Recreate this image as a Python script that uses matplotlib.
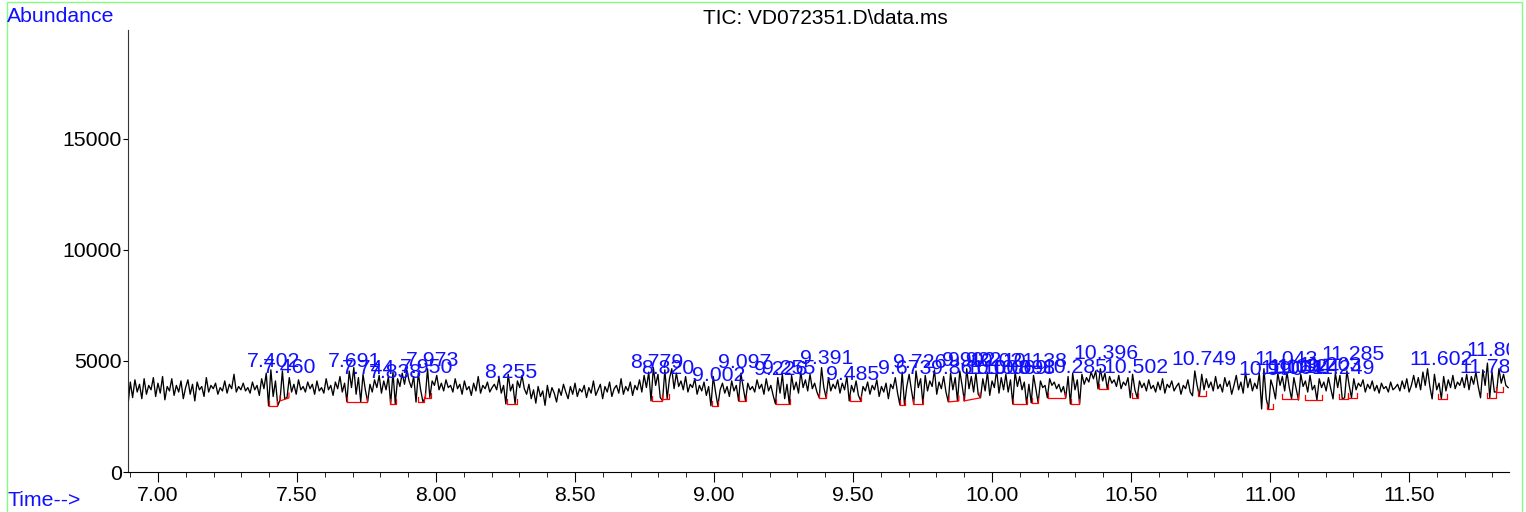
import numpy as np
import matplotlib.pyplot as plt
from matplotlib.patches import Rectangle

plt.rcParams['font.family'] = ['Liberation Sans', 'DejaVu Sans']

# scan window (min) and TIC abundance
t_start = 6.892
t_end = 11.857
tic = [
    3000, 4050, 3350, 4150, 3600, 3950, 3300, 4200, 3500, 3900, 3700, 4250, 3400, 4000, 3550, 4300, 3250, 3850, 3650, 4200,
    3450, 3900, 3600, 4100, 3300, 3800, 4150, 3500, 3950, 3200, 4050, 3700, 3850, 3400, 4250, 3600, 3900, 3750, 4000, 3500,
    3800, 3650, 4100, 3550, 3950, 3750, 4400, 3600, 3850, 3700, 4000, 3650, 3800, 3550, 4050, 3700, 3900, 3450, 4200, 3750,
    4450, 2980, 4600, 3400, 4100, 2990, 3250, 4550, 3300, 3350, 4250, 3600, 3950, 3500, 4150, 3700, 3850, 3600, 4050, 3750,
    3950, 3500, 4100, 3650, 3800, 3550, 4200, 3700, 3900, 3450, 4050, 3750, 4300, 3600, 4000, 3160, 4550, 3800, 4700, 3500,
    4250, 3150, 4400, 3700, 3160, 3950, 3600, 4150, 3800, 4350, 3550, 4100, 3700, 4300, 3060, 4500, 3070, 4200, 3850, 4450,
    3950, 4600, 4100, 3800, 4300, 3150, 4450, 3700, 3160, 3340, 4650, 3350, 4100, 3900, 4350, 3700, 4000, 3650, 4150, 3800,
    3900, 3600, 4200, 3750, 3950, 3500, 4100, 3700, 3850, 3450, 4000, 3650, 4300, 3550, 3900, 3750, 4050, 3600, 3800, 3950,
    3700, 4250, 3550, 3900, 3060, 4400, 3650, 3950, 3070, 4100, 3800, 4350, 3750, 3500, 3950, 3300, 3700, 3100, 3850, 3400,
    3650, 3000, 3900, 3350, 3800, 3550, 3150, 3750, 3450, 3950, 3600, 3300, 3850, 3500, 4000, 3400, 3750, 3600, 3900, 3350,
    3800, 3550, 4100, 3450, 3700, 3950, 3300, 3850, 3600, 4050, 3400, 3750, 3900, 3550, 4200, 3500, 3850, 3650, 4050, 3450,
    3900, 3700, 4150, 3600, 4350, 3800, 4500, 3200, 4700, 3900, 4400, 3350, 3210, 4600, 3300, 4200, 4650, 3750, 4450, 3850,
    4100, 3700, 4300, 3600, 3950, 3800, 4200, 3500, 3900, 3650, 4050, 3450, 3850, 2980, 4300, 3600, 2980, 3700, 4000, 3550,
    3850, 3400, 4100, 3650, 3900, 3200, 4450, 3800, 3200, 4000, 3700, 3850, 3600, 4150, 3750, 3950, 3500, 4200, 3650, 3900,
    3450, 3060, 4250, 3550, 4400, 3300, 3950, 3070, 4350, 3700, 4050, 3550, 4500, 3800, 4150, 3650, 4400, 3750, 4000, 3600,
    3340, 4700, 3800, 3340, 4250, 3650, 3950, 3750, 4150, 3550, 4000, 3700, 4300, 3200, 3900, 3600, 4100, 3450, 3210, 3850,
    3650, 4050, 3500, 3900, 3700, 4150, 3400, 3850, 3600, 4000, 3300, 3950, 3750, 4250, 3550, 3020, 4500, 3020, 3850, 4400,
    3700, 3070, 4550, 3800, 4200, 3060, 4350, 3650, 4100, 3850, 4600, 3500, 4050, 3750, 4300, 3600, 3160, 4450, 3700, 4250,
    3200, 4550, 3900, 3200, 4650, 3750, 4300, 3600, 4450, 3500, 3340, 4200, 3650, 4500, 3450, 4100, 3800, 4600, 3550, 4250,
    3700, 4400, 3600, 4150, 3060, 4500, 3850, 4300, 3700, 4050, 3060, 3950, 3110, 4350, 3750, 3110, 4100, 3800, 3900, 3340,
    4200, 3900, 4050, 3750, 3950, 3600, 3850, 3340, 4300, 3060, 4450, 3700, 4150, 3060, 4400, 3950, 4250, 4050, 4500, 4200,
    4550, 3740, 4650, 4100, 4450, 3740, 4300, 4000, 4150, 3850, 4350, 3750, 4050, 3900, 4250, 3340, 4400, 3700, 3340, 4100,
    3800, 4000, 3650, 4150, 3750, 3900, 3600, 4050, 3700, 4200, 3550, 3950, 3800, 4100, 3650, 3850, 4000, 3500, 3900, 3750,
    4150, 3600, 3430, 4550, 3900, 3430, 4400, 3700, 4200, 3800, 4050, 3650, 4300, 3750, 3950, 3600, 4250, 3850, 4100, 3500,
    3900, 4350, 3700, 4050, 3550, 4500, 3800, 4200, 3650, 4000, 3750, 4450, 2840, 4650, 3300, 2840, 4150, 3800, 3290, 4450,
    3900, 4300, 3650, 4500, 3800, 3290, 4250, 3750, 3240, 4400, 3850, 4100, 3600, 4350, 3700, 3900, 3240, 4200, 3800, 4050,
    3650, 4250, 3750, 3290, 4450, 3800, 4350, 3290, 3340, 4550, 3900, 3340, 4200, 3700, 4000, 3850, 4150, 3600, 3950, 3750,
    4100, 3650, 3900, 3550, 4000, 3750, 3850, 3600, 4050, 3700, 3800, 3950, 3650, 4100, 3750, 4200, 3600, 3900, 4350, 3800,
    4250, 3700, 4500, 3900, 4650, 3850, 3290, 4400, 3700, 4000, 3290, 4300, 3650, 4150, 3800, 4350, 3750, 4050, 3900, 4250,
    3800, 4400, 3700, 4300, 3950, 4500, 3850, 3340, 4600, 3900, 4900, 3340, 4500, 3600, 3610, 4650, 4000, 4400, 3900, 3800,
]

# integrated peaks: retention time and apex abundance
peak_rt = [7.402, 7.460, 7.691, 7.744, 7.838, 7.950, 7.973, 8.255, 8.779, 8.820,
           9.002, 9.097, 9.226, 9.255, 9.391, 9.485, 9.673, 9.726, 9.861, 9.902,
           9.922, 10.008, 10.021, 10.069, 10.098, 10.138, 10.285, 10.396, 10.502, 10.749,
           10.990, 11.043, 11.064, 11.094, 11.124, 11.203, 11.249, 11.285, 11.602, 11.782,
           11.807]
peak_height = [4650, 4375, 4650, 4330, 4150, 4375, 4690, 4150, 4600, 4330,
               4015, 4600, 4285, 4330, 4780, 4060, 4330, 4600, 4330, 4690,
               4690, 4330, 4650, 4330, 4330, 4650, 4375, 5005, 4375, 4735,
               4285, 4735, 4330, 4375, 4375, 4465, 4330, 4960, 4735, 4375,
               5140]

# baselines drawn under the peaks (start, end, level at start, level at end)
base_t0 = [7.399, 7.439, 7.680, 7.835, 7.935, 7.960, 8.255, 8.777, 8.813, 8.993,
           9.090, 9.223, 9.378, 9.489, 9.669, 9.716, 9.845, 9.899, 10.076, 10.144,
           10.201, 10.284, 10.385, 10.504, 10.741, 10.989, 11.043, 11.126, 11.248, 11.281,
           11.604, 11.781, 11.813]
base_t1 = [7.428, 7.471, 7.752, 7.856, 7.957, 7.982, 8.291, 8.813, 8.838, 9.014,
           9.115, 9.273, 9.403, 9.529, 9.687, 9.752, 9.881, 9.957, 10.126, 10.165,
           10.263, 10.313, 10.417, 10.525, 10.770, 11.011, 11.101, 11.187, 11.281, 11.313,
           11.637, 11.813, 11.838]
base_a0 = [2975, 3200, 3155, 3065, 3155, 3335, 3065, 3200, 3290, 2975,
           3200, 3065, 3335, 3200, 3020, 3065, 3155, 3200, 3065, 3110,
           3335, 3065, 3740, 3335, 3425, 2840, 3290, 3245, 3290, 3335,
           3290, 3335, 3605]
base_a1 = [2975, 3335, 3155, 3065, 3155, 3335, 3065, 3200, 3290, 2975,
           3200, 3065, 3335, 3200, 3020, 3065, 3200, 3335, 3065, 3110,
           3335, 3065, 3740, 3335, 3425, 2840, 3290, 3245, 3290, 3335,
           3290, 3335, 3605]

blue = '#1010ff'
fs = 15.3
time = np.linspace(t_start, t_end, len(tic))

fig = plt.figure(figsize=(15.26, 5.12), dpi=100)
ax = fig.add_axes([128 / 1526, 40 / 512, (1509 - 128) / 1526, (472 - 30) / 512])

ax.plot(time, tic, color='black', lw=0.95)

for t0, t1, a0, a1 in zip(base_t0, base_t1, base_a0, base_a1):
    ax.plot([t0, t0, t1, t1], [a0 + 220, a0, a1, a1 + 220], color='red', lw=0.9)

for rt, h in zip(peak_rt, peak_height):
    ax.annotate(f'{rt:.3f}', (rt, h), xytext=(4, 7), textcoords='offset pixels',
                ha='center', va='center', color=blue, fontsize=fs,
                annotation_clip=False, clip_on=True)

ax.set_xlim(6.892, 11.860)
ax.set_ylim(0, 19900)
ax.set_xticks(np.arange(7.0, 11.51, 0.5))
ax.set_xticklabels([f'{v:.2f}' for v in np.arange(7.0, 11.51, 0.5)])
ax.set_xticks(np.arange(6.9, 11.86, 0.1), minor=True)
ax.set_yticks([0, 5000, 10000, 15000])
ax.tick_params(axis='x', which='major', length=7.2, pad=3, labelsize=fs)
ax.tick_params(axis='x', which='minor', length=3.6)
ax.tick_params(axis='y', which='major', length=3.6, pad=1, labelsize=fs)
for s in ['top', 'right']:
    ax.spines[s].set_visible(False)
ax.spines['left'].set_color('#333333')

fig.text(0.541, 1 - 19 / 512, 'TIC: VD072351.D\\data.ms', ha='center', va='center', fontsize=15)
fig.text(7 / 1526, 1 - 16 / 512, 'Abundance', ha='left', va='center', fontsize=fs, color=blue)
fig.text(7 / 1526, 1 - 501 / 512, 'Time-->', ha='left', va='center', fontsize=fs, color=blue)

fig.patches.append(Rectangle((7 / 1526, -0.01), (1522 - 7) / 1526, 1.01 - 1.5 / 512,
                             transform=fig.transFigure, fill=False, ec='#80ff80', lw=1))

fig.savefig('out.png', dpi=100)
